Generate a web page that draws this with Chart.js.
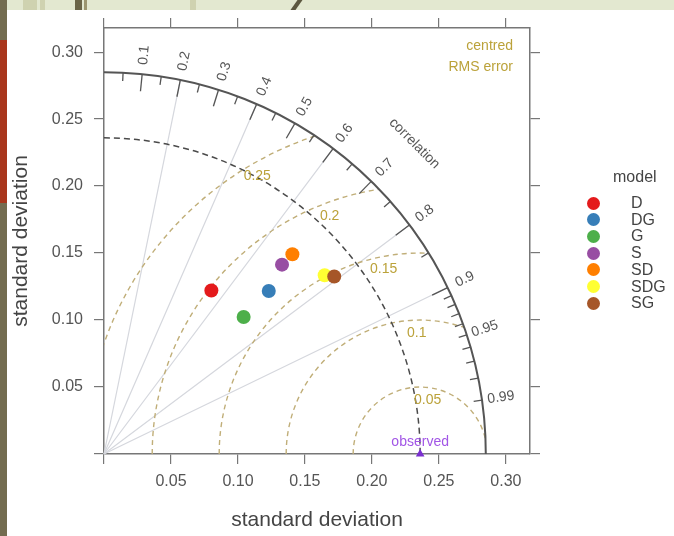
<!DOCTYPE html>
<html>
<head>
<meta charset="utf-8">
<script src="https://cdn.jsdelivr.net/npm/chart.js@4.4.1/dist/chart.umd.min.js"></script>
<style>
  html, body { margin: 0; padding: 0; }
  body { width: 674px; height: 536px; position: relative; overflow: hidden; background: #e3e8d0; font-family: "Liberation Sans", Arial, sans-serif; }
  .deco { position: absolute; top: 0; height: 10px; }
  #stripe { position: absolute; left: 0; top: 0; width: 7px; height: 536px; background: #736c50; }
  #stripe-red { position: absolute; left: 0; top: 40px; width: 7px; height: 163px; background: #a9361c; }
  #panel { position: absolute; left: 7px; top: 10px; right: 0; bottom: 0; background: #fff; }
  #taylor { position: absolute; left: 0; top: 0; }
  #legend { position: absolute; left: 0; top: 0; color: #444; font-size: 16px; }
  #legend .title { position: absolute; left: 613px; top: 168px; line-height: 18px; }
  #legend .dot { position: absolute; left: 587px; width: 13px; height: 13px; border-radius: 50%; }
  #legend .lab { position: absolute; left: 631px; line-height: 18px; }
</style>
</head>
<body>
<div class="deco" style="left:23px;width:14px;background:#cfd2b0"></div>
<div class="deco" style="left:40px;width:5px;background:#cfd2b0"></div>
<div class="deco" style="left:75px;width:7px;background:#6b6548"></div>
<div class="deco" style="left:84px;width:3px;background:#9c9670"></div>
<div class="deco" style="left:190px;width:6px;background:#cfd2b0"></div>
<div class="deco" style="left:294px;width:5px;background:#5d5840;transform:skewX(-35deg)"></div>
<div id="stripe"></div>
<div id="stripe-red"></div>
<div id="panel"></div>
<canvas id="taylor" width="674" height="536"></canvas>
<div id="legend"></div>
<script>
'use strict';

// model statistics (standard deviation and correlation with observed)
const models = ['D', 'DG', 'G', 'S', 'SD', 'SDG', 'SG'];
const modelSd = [0.146, 0.173, 0.146, 0.194, 0.205, 0.212, 0.217];
const modelCor = [0.549, 0.711, 0.714, 0.685, 0.686, 0.777, 0.792];
const modelColors = ['#e41a1c', '#377eb8', '#4daf4a', '#984ea3', '#ff7f00', '#ffff33', '#a65628'];

const observedSd = 0.236;
const sdMax = 0.285;
const sdTicks = [0, 0.05, 0.10, 0.15, 0.20, 0.25, 0.30];
const corrLabels = [0.1, 0.2, 0.3, 0.4, 0.5, 0.6, 0.7, 0.8, 0.9, 0.95, 0.99];
const corrLines = [0.2, 0.4, 0.6, 0.8, 0.9];
const corrMinorTicks = [0.05, 0.15, 0.25, 0.35, 0.45, 0.55, 0.65, 0.75, 0.85, 0.91, 0.92, 0.93, 0.94, 0.95, 0.96, 0.97, 0.98, 0.99];
const rmsLevels = [0.05, 0.10, 0.15, 0.20, 0.25];

const FONT = '"Liberation Sans", Arial, sans-serif';

const taylorPlugin = {
  id: 'taylor',
  beforeDatasetsDraw(chart) {
    const { ctx, scales: { x, y } } = chart;
    const ox = x.getPixelForValue(0), oy = y.getPixelForValue(0);
    const len = v => x.getPixelForValue(v) - ox;
    const R = len(sdMax);
    const cx = x.getPixelForValue(observedSd);
    ctx.save();

    // correlation rays
    ctx.strokeStyle = '#d5d7dd';
    ctx.lineWidth = 1.2;
    corrLines.forEach(c => {
      const a = Math.acos(c);
      ctx.beginPath();
      ctx.moveTo(ox, oy);
      ctx.lineTo(ox + R * Math.cos(a), oy - R * Math.sin(a));
      ctx.stroke();
    });

    // centred RMS arcs, kept inside the outer arc
    ctx.save();
    ctx.beginPath();
    ctx.moveTo(ox, oy);
    ctx.arc(ox, oy, R, -Math.PI / 2, 0);
    ctx.closePath();
    ctx.clip();
    ctx.setLineDash([5, 4]);
    ctx.strokeStyle = '#c0ae78';
    ctx.lineWidth = 1.4;
    rmsLevels.forEach(g => {
      ctx.beginPath();
      ctx.arc(cx, oy, len(g), Math.PI, 2 * Math.PI);
      ctx.stroke();
    });
    ctx.restore();

    // observed sd arc
    ctx.setLineDash([6, 4]);
    ctx.strokeStyle = '#4a4a4a';
    ctx.lineWidth = 1.5;
    ctx.beginPath();
    ctx.arc(ox, oy, len(observedSd), -Math.PI / 2, 0);
    ctx.stroke();

    // outer arc + ticks
    ctx.setLineDash([]);
    ctx.strokeStyle = '#555';
    ctx.lineWidth = 2;
    ctx.beginPath();
    ctx.arc(ox, oy, R, -Math.PI / 2, 0);
    ctx.stroke();
    ctx.lineWidth = 1.3;
    const tick = (c, f) => {
      const a = Math.acos(c);
      ctx.beginPath();
      ctx.moveTo(ox + R * f * Math.cos(a), oy - R * f * Math.sin(a));
      ctx.lineTo(ox + R * Math.cos(a), oy - R * Math.sin(a));
      ctx.stroke();
    };
    corrLabels.slice(0, 9).forEach(c => tick(c, 0.955));
    corrMinorTicks.forEach(c => tick(c, 0.978));

    // correlation labels
    ctx.fillStyle = '#555';
    ctx.font = '14px ' + FONT;
    ctx.textAlign = 'center';
    ctx.textBaseline = 'middle';
    corrLabels.forEach(c => {
      const a = Math.acos(c);
      ctx.save();
      ctx.translate(ox + R * 1.05 * Math.cos(a), oy - R * 1.05 * Math.sin(a));
      ctx.rotate(-a);
      ctx.fillText(String(c), 0, 0);
      ctx.restore();
    });
    ctx.save();
    ctx.translate(ox + R * 1.15 * Math.cos(Math.PI / 4), oy - R * 1.15 * Math.sin(Math.PI / 4));
    ctx.rotate(Math.PI / 4);
    ctx.fillText('correlation', 0, 0);
    ctx.restore();

    // rms labels
    ctx.fillStyle = '#bba23a';
    rmsLevels.forEach((g, i) => {
      const ang = (82 + i * 9.6) * Math.PI / 180;
      const r = len(g) - 13;
      ctx.fillText(String(g), cx + r * Math.cos(ang), oy - r * Math.sin(ang));
    });
    ctx.textAlign = 'right';
    ctx.fillText('centred', chart.chartArea.right - 17, chart.chartArea.top + 18);
    ctx.fillText('RMS error', chart.chartArea.right - 17, chart.chartArea.top + 39);

    // observed label
    ctx.textAlign = 'center';
    ctx.fillStyle = '#a256e6';
    ctx.fillText('observed', cx, oy - 12);
    ctx.restore();
  }
};

const setTicks = scale => { scale.ticks = sdTicks.map(v => ({ value: v })); };
const fmt = v => (v === 0 ? '' : v.toFixed(2));

function axis(position, extra) {
  const horiz = position === 'top' || position === 'bottom';
  return Object.assign({
    type: 'linear',
    position,
    min: 0,
    max: 0.318,
    afterBuildTicks: setTicks,
    grid: { drawOnChartArea: false, drawTicks: true, tickLength: 10, color: '#777', lineWidth: 1.2 },
    border: { display: true, color: '#777', width: 1.5 },
    ticks: { display: false },
  }, extra, { axis: horiz ? 'x' : 'y' });
}

const datasets = models.map((m, i) => ({
  label: m,
  data: [{ x: modelSd[i] * modelCor[i], y: modelSd[i] * Math.sin(Math.acos(modelCor[i])) }],
  backgroundColor: modelColors[i],
  borderWidth: 0,
  pointRadius: 7,
  order: models.length - i,
}));
datasets.push({
  label: 'observed',
  data: [{ x: observedSd, y: 0 }],
  pointStyle: 'triangle',
  pointRadius: 5,
  backgroundColor: '#7a2fd0',
  borderWidth: 0,
  clip: false,
  order: 0,
});

new Chart(document.getElementById('taylor'), {
  type: 'scatter',
  data: { datasets },
  options: {
    responsive: false,
    animation: false,
    layout: { padding: 0 },
    plugins: { legend: { display: false }, tooltip: { enabled: false } },
    scales: {
      x: axis('bottom', {
        afterFit: s => { s.height = 82; },
        ticks: { display: true, callback: fmt, color: '#555', padding: 8, maxRotation: 0, font: { size: 16, family: FONT } },
        title: { display: true, text: 'standard deviation', color: '#444', padding: { top: 0, bottom: 3 }, font: { size: 21, family: FONT } },
      }),
      y: axis('left', {
        afterFit: s => { s.width = 104; },
        ticks: { display: true, callback: fmt, color: '#555', padding: 11, font: { size: 16, family: FONT } },
        title: { display: true, text: 'standard deviation', color: '#444', padding: { top: 9, bottom: 0 }, font: { size: 21, family: FONT } },
      }),
      x2: axis('top', { afterFit: s => { s.height = 28; } }),
      y2: axis('right', { afterFit: s => { s.width = 144; } }),
    },
  },
  plugins: [taylorPlugin],
});

// legend
const legend = document.getElementById('legend');
legend.innerHTML = '<div class="title">model</div>' + models.map((m, i) => {
  const cy = 203 + i * 16.7;
  return '<div class="dot" style="top:' + (cy - 6.5) + 'px;background:' + modelColors[i] + '"></div>' +
    '<div class="lab" style="top:' + (cy - 9) + 'px">' + m + '</div>';
}).join('');
</script>
</body>
</html>
